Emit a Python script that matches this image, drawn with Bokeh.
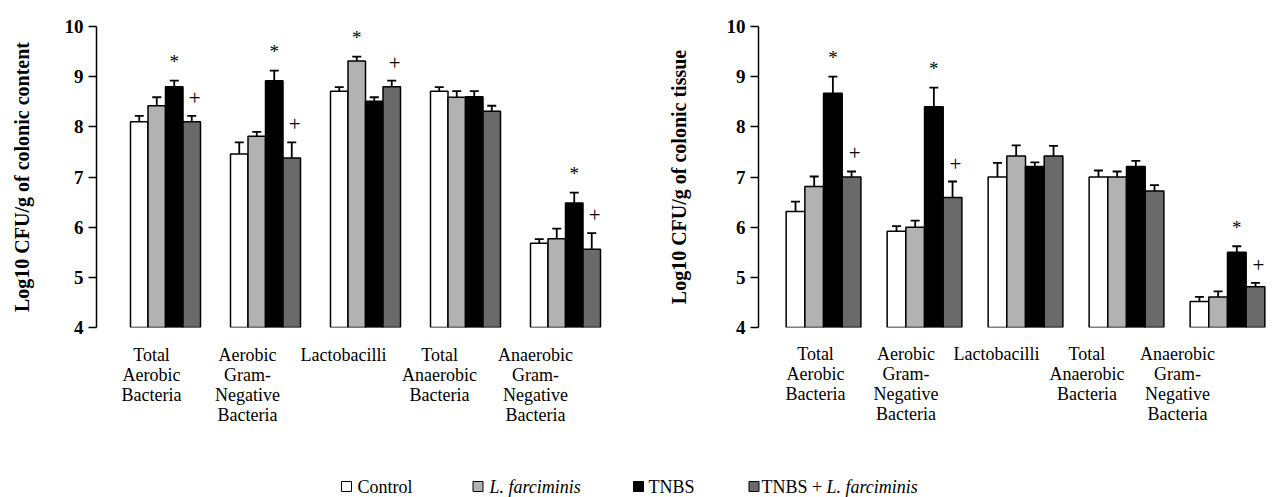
import numpy as np
from bokeh.plotting import figure
from bokeh.models import Range1d, LinearAxis, FixedTicker, Whisker, TeeHead, ColumnDataSource
from bokeh.layouts import column, row
from bokeh.embed import file_html
from bokeh.resources import INLINE
from bokeh.core.properties import value

# ---------------- data ----------------
categories = ["Total\nAerobic\nBacteria", "Aerobic\nGram-\nNegative\nBacteria", "Lactobacilli",
              "Total\nAnaerobic\nBacteria", "Anaerobic\nGram-\nNegative\nBacteria"]
series = ["Control", "L. farciminis", "TNBS", "TNBS + L. farciminis"]
colors = ["#FFFFFF", "#B2B2B2", "#000000", "#6A6A6A"]
y_ticks = [4, 5, 6, 7, 8, 9, 10]

# colonic content
content_control = [8.10, 7.46, 8.71, 8.71, 5.68]
content_lf = [8.42, 7.81, 9.31, 8.59, 5.77]
content_tnbs = [8.80, 8.92, 8.51, 8.60, 6.48]
content_tnbs_lf = [8.10, 7.38, 8.80, 8.31, 5.56]
content_err_control = [0.12, 0.23, 0.08, 0.08, 0.08]
content_err_lf = [0.17, 0.09, 0.09, 0.12, 0.20]
content_err_tnbs = [0.12, 0.20, 0.08, 0.11, 0.21]
content_err_tnbs_lf = [0.12, 0.31, 0.12, 0.11, 0.32]
content_marks_control = ["", "", "", "", ""]
content_marks_lf = ["", "", "*", "", ""]
content_marks_tnbs = ["*", "*", "", "", "*"]
content_marks_tnbs_lf = ["+", "+", "+", "", "+"]

# colonic tissue
tissue_control = [6.31, 5.92, 7.00, 7.00, 4.52]
tissue_lf = [6.81, 6.00, 7.42, 7.00, 4.61]
tissue_tnbs = [8.67, 8.40, 7.21, 7.21, 5.50]
tissue_tnbs_lf = [7.00, 6.59, 7.42, 6.72, 4.81]
tissue_err_control = [0.20, 0.10, 0.28, 0.13, 0.09]
tissue_err_lf = [0.20, 0.13, 0.21, 0.11, 0.11]
tissue_err_tnbs = [0.33, 0.38, 0.08, 0.11, 0.12]
tissue_err_tnbs_lf = [0.11, 0.32, 0.20, 0.12, 0.08]
tissue_marks_control = ["", "", "", "", ""]
tissue_marks_lf = ["", "", "", "", ""]
tissue_marks_tnbs = ["*", "*", "", "", "*"]
tissue_marks_tnbs_lf = ["+", "+", "", "", "+"]

FONT = "Liberation Serif"


def make_chart(vals, errs, marks, ylabel, xr, labr, group_w, bl, br, bt, bb,
               label_standoff, ylabel_standoff):
    p = figure(width=640, height=450, x_range=Range1d(*xr), y_range=Range1d(4, 10),
               output_backend="svg", toolbar_location=None,
               x_axis_location=None, y_axis_location=None,
               min_border_left=bl, min_border_right=br, min_border_top=bt, min_border_bottom=bb)
    p.outline_line_color = None
    p.grid.visible = False
    p.background_fill_color = "white"
    p.border_fill_color = "white"

    yax = LinearAxis(ticker=FixedTicker(ticks=y_ticks), axis_label=ylabel,
                     axis_label_text_font=FONT, axis_label_text_font_style="bold",
                     axis_label_text_font_size="20px", axis_label_standoff=ylabel_standoff,
                     axis_label_text_color="black",
                     major_label_text_font=FONT, major_label_text_font_style="bold",
                     major_label_text_font_size="19px", major_label_text_color="black",
                     major_tick_in=0, major_tick_out=8, major_label_standoff=5,
                     minor_tick_line_color=None, axis_line_width=1.5,
                     major_tick_line_width=1.5, axis_line_color="black",
                     major_tick_line_color="black")
    p.add_layout(yax, "left")

    p.extra_x_ranges = {"lab": Range1d(*labr)}
    xax = LinearAxis(x_range_name="lab", ticker=FixedTicker(ticks=[0, 1, 2, 3, 4]),
                     major_label_overrides={i: c for i, c in enumerate(categories)},
                     axis_line_color=None, major_tick_line_color=None,
                     minor_tick_line_color=None, major_tick_in=0, major_tick_out=0,
                     major_label_text_font=FONT, major_label_text_font_size="18px",
                     major_label_text_color="black", major_label_text_line_height=1.0,
                     major_label_standoff=label_standoff)
    p.add_layout(xax, "below")

    w = group_w / 4.0
    idx = np.arange(len(categories))
    for k in range(4):
        x = idx + (k - 1.5) * w
        top = np.array(vals[k])
        hi = top + np.array(errs[k])
        p.vbar(x=x, top=top, bottom=4, width=w, fill_color=colors[k],
               line_color="black", line_width=1.5)
        src = ColumnDataSource(dict(x=x, lo=top, hi=hi, m=marks[k]))
        p.add_layout(Whisker(base="x", lower="lo", upper="hi", source=src,
                             lower_head=None,
                             upper_head=TeeHead(size=9, line_width=1.8, line_color="black"),
                             line_width=1.8, line_color="black"))
        is_plus = (k == 3)
        p.text(x="x", y="hi", text="m", source=src, text_font=value(FONT),
               text_font_size="21px" if is_plus else "19px",
               text_align="center", text_baseline="alphabetic",
               y_offset=-18 if is_plus else -19, x_offset=3 if is_plus else 0,
               text_color="black")
    return p


p1 = make_chart([content_control, content_lf, content_tnbs, content_tnbs_lf],
                [content_err_control, content_err_lf, content_err_tnbs, content_err_tnbs_lf],
                [content_marks_control, content_marks_lf, content_marks_tnbs, content_marks_tnbs_lf],
                "Log10 CFU/g of colonic content",
                xr=(-0.69, 4.55), labr=(-0.573, 4.885), group_w=0.70,
                bl=96, br=20, bt=16, bb=123, label_standoff=17, ylabel_standoff=29)

p2 = make_chart([tissue_control, tissue_lf, tissue_tnbs, tissue_tnbs_lf],
                [tissue_err_control, tissue_err_lf, tissue_err_tnbs, tissue_err_tnbs_lf],
                [tissue_marks_control, tissue_marks_lf, tissue_marks_tnbs, tissue_marks_tnbs_lf],
                "Log10 CFU/g of colonic tissue",
                xr=(-0.644, 4.426), labr=(-0.630, 5.028), group_w=0.74,
                bl=118, br=10, bt=26, bb=118, label_standoff=16, ylabel_standoff=34)

# ---------------- legend strip ----------------
pl = figure(width=1280, height=47, x_range=Range1d(0, 1280), y_range=Range1d(0, 47),
            output_backend="svg", toolbar_location=None,
            x_axis_location=None, y_axis_location=None, min_border=0)
pl.outline_line_color = None
pl.grid.visible = False
sq_x = [346, 477.5, 638, 753.5]
pl.scatter(x=sq_x, y=[11] * 4, marker="square", size=10, fill_color=colors,
           line_color="black", line_width=1)
leg_parts = [("Control", 357, "normal"), ("L. farciminis", 489, "italic"),
             ("TNBS", 648, "normal"), ("TNBS +", 761, "normal"),
             ("L. farciminis", 826, "italic")]
for txt, xx, style in leg_parts:
    pl.text(x=[xx], y=[11], text=[txt], text_font=value(FONT), text_font_size="18px",
            text_font_style=style, text_align="left", text_baseline="middle",
            text_color="black")

layout = column(row(p1, p2), pl)
open("out.html", "w").write(file_html(layout, INLINE))
